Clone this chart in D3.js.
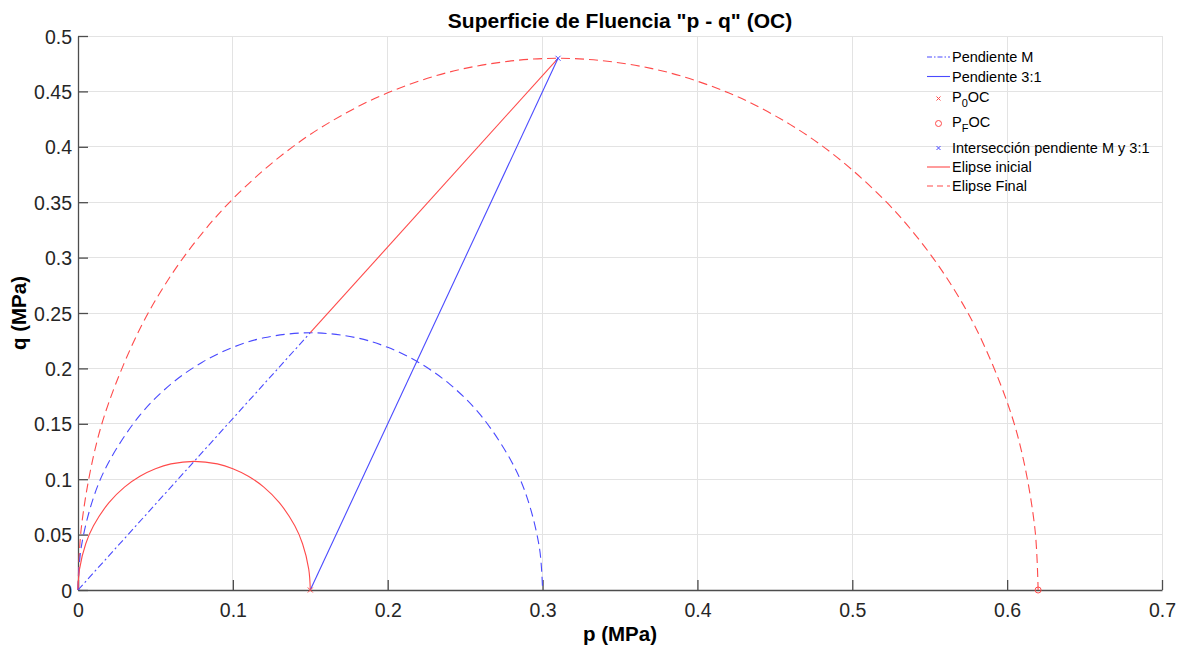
<!DOCTYPE html>
<html>
<head>
<meta charset="utf-8">
<script src="https://cdn.jsdelivr.net/npm/d3@7"></script>
<style>
html,body{margin:0;padding:0;background:#fff;}
svg{display:block;font-family:"Liberation Sans",Arial,sans-serif;}
</style>
</head>
<body>
<svg id="chart" width="1181" height="652"></svg>
<script>
// ---- data (p, q in MPa) ----
const xTicks = [0, 0.1, 0.2, 0.3, 0.4, 0.5, 0.6, 0.7];
const yTicks = [0, 0.05, 0.1, 0.15, 0.2, 0.25, 0.3, 0.35, 0.4, 0.45, 0.5];

const elipseInicial = [
  [0,0],[0.001,0.0189],[0.005,0.0417],[0.01,0.0579],[0.02,0.0789],[0.03,0.0929],
  [0.04,0.1027],[0.05,0.1095],[0.06,0.1138],[0.075,0.1161],[0.09,0.1138],[0.10,0.1095],
  [0.11,0.1027],[0.12,0.0929],[0.13,0.0789],[0.14,0.0579],[0.145,0.0417],[0.149,0.0189],[0.15,0]
];
const elipseIntermedia = [
  [0,0],[0.002,0.0378],[0.01,0.0834],[0.02,0.1158],[0.04,0.1578],[0.06,0.1858],
  [0.08,0.2054],[0.10,0.2190],[0.12,0.2276],[0.15,0.2322],[0.18,0.2276],[0.20,0.2190],
  [0.22,0.2054],[0.24,0.1858],[0.26,0.1578],[0.28,0.1158],[0.29,0.0834],[0.298,0.0378],[0.30,0]
];
const elipseFinal = [
  [0,0],[0.002,0.0544],[0.01,0.1209],[0.02,0.1696],[0.04,0.2358],[0.06,0.2838],
  [0.08,0.3217],[0.10,0.3530],[0.13,0.3907],[0.16,0.4200],[0.20,0.4487],[0.25,0.4708],
  [0.31,0.4799],[0.37,0.4708],[0.42,0.4487],[0.46,0.4200],[0.49,0.3907],[0.52,0.3530],
  [0.54,0.3217],[0.56,0.2838],[0.58,0.2358],[0.60,0.1696],[0.61,0.1209],[0.618,0.0544],[0.62,0]
];
const pendienteM = [[0,0],[0.15,0.2322]];
const pendienteMRoja = [[0.15,0.2322],[0.31,0.4799]];
const pendiente31 = [[0.15,0],[0.31,0.4799]];
const p0OC = [0.15, 0];
const pFOC = [0.62, 0];
const interseccion = [0.31, 0.4799];

// ---- layout ----
const RED = "#ff4a4a", BLUE = "#4a4aff";
const svg = d3.select("#chart");
const L = 78, T = 36, R = 1162, B = 590;
const x = d3.scaleLinear().domain([0, 0.7]).range([L, R]);
const y = d3.scaleLinear().domain([0, 0.5]).range([B, T]);

// grid
const g = svg.append("g");
g.selectAll(".gx").data(xTicks).enter().append("line")
  .attr("x1", d => x(d)).attr("x2", d => x(d)).attr("y1", T).attr("y2", B)
  .attr("stroke", "#e3e3e3").attr("stroke-width", 1).attr("shape-rendering","crispEdges");
g.selectAll(".gy").data(yTicks).enter().append("line")
  .attr("y1", d => y(d)).attr("y2", d => y(d)).attr("x1", L).attr("x2", R)
  .attr("stroke", "#e3e3e3").attr("stroke-width", 1).attr("shape-rendering","crispEdges");

// axes
const xAxis = d3.axisBottom(x).tickValues(xTicks).tickFormat(d3.format("~g")).tickSizeInner(-10).tickSizeOuter(0).tickPadding(13);
const yAxis = d3.axisLeft(y).tickValues(yTicks).tickFormat(d3.format("~g")).tickSizeInner(-10).tickSizeOuter(0).tickPadding(6);
const gx = svg.append("g").attr("transform", `translate(0,${B})`).call(xAxis);
const gy = svg.append("g").attr("transform", `translate(${L},0)`).call(yAxis);
[gx, gy].forEach(a => {
  a.select(".domain").attr("stroke", "#4d4d4d").attr("stroke-width", 1.3);
  a.selectAll(".tick line").attr("stroke", "#4d4d4d").attr("stroke-width", 1.3);
  a.selectAll(".tick text").attr("fill", "#262626").style("font-size", "19.5px").style("font-family", "'Liberation Sans',Arial,sans-serif");
});
gy.selectAll(".tick text").attr("dy", "0.36em");
gx.selectAll(".tick text").attr("dy", "0.71em");

// curves
const line = d3.line().x(d => x(d[0])).y(d => y(d[1]));
const smooth = d3.line().x(d => x(d[0])).y(d => y(d[1])).curve(d3.curveCatmullRom.alpha(0.5));
const plot = svg.append("g");
plot.append("path").datum(elipseFinal).attr("d", smooth).attr("fill","none").attr("stroke",RED).attr("stroke-width",1.1).attr("stroke-dasharray","9,5");
plot.append("path").datum(elipseIntermedia).attr("d", smooth).attr("fill","none").attr("stroke",BLUE).attr("stroke-width",1.1).attr("stroke-dasharray","9,5");
plot.append("path").datum(elipseInicial).attr("d", smooth).attr("fill","none").attr("stroke",RED).attr("stroke-width",1.1);
plot.append("path").datum(pendienteM).attr("d", line).attr("fill","none").attr("stroke",BLUE).attr("stroke-width",1.1).attr("stroke-dasharray","7,3,2,3");
plot.append("path").datum(pendienteMRoja).attr("d", line).attr("fill","none").attr("stroke",RED).attr("stroke-width",1.1);
plot.append("path").datum(pendiente31).attr("d", line).attr("fill","none").attr("stroke",BLUE).attr("stroke-width",1.1);

function cross(gsel, cx, cy, s, color) {
  gsel.append("path").attr("d", `M${cx-s},${cy-s}L${cx+s},${cy+s}M${cx-s},${cy+s}L${cx+s},${cy-s}`)
    .attr("stroke", color).attr("stroke-width", 1).attr("fill","none");
}
cross(plot, x(p0OC[0]), y(p0OC[1]), 2.5, RED);
plot.append("circle").attr("cx", x(pFOC[0])).attr("cy", y(pFOC[1])).attr("r", 3).attr("fill","none").attr("stroke",RED).attr("stroke-width",1);
cross(plot, x(interseccion[0]), y(interseccion[1]), 2.5, BLUE);

// legend
const lg = svg.append("g").style("font-size","14.5px").attr("fill","#000");
const rowsY = [57, 76.5, 97, 122, 148, 167, 186];
const lx0 = 927, lx1 = 950, tx = 952;
function lline(i, color, dash) {
  lg.append("line").attr("x1", lx0).attr("x2", lx1).attr("y1", rowsY[i]).attr("y2", rowsY[i])
    .attr("stroke", color).attr("stroke-width", 1.1).attr("stroke-dasharray", dash || null);
}
lline(0, BLUE, "5,2,1.5,2");
lline(1, BLUE);
cross(lg, 938.5, rowsY[2]+1.5, 2, RED);
lg.append("circle").attr("cx", 938.5).attr("cy", rowsY[3]+1.5).attr("r", 3).attr("fill","none").attr("stroke",RED).attr("stroke-width",1);
cross(lg, 938.5, rowsY[4], 2, BLUE);
lline(5, RED);
lline(6, RED, "6,4");
function ltext(i, parts) {
  const t = lg.append("text").attr("x", tx).attr("y", rowsY[i]).attr("dy", "0.35em").attr("fill", "#000");
  parts.forEach(p => {
    const s = t.append("tspan").text(p.t);
    if (p.sub) s.attr("dy", "5").style("font-size", "11px");
    if (p.back) s.attr("dy", "-5");
  });
}
ltext(0, [{t:"Pendiente M"}]);
ltext(1, [{t:"Pendiente 3:1"}]);
ltext(2, [{t:"P"},{t:"0",sub:true},{t:"OC",back:true}]);
ltext(3, [{t:"P"},{t:"F",sub:true},{t:"OC",back:true}]);
ltext(4, [{t:"Intersección pendiente M y 3:1"}]);
ltext(5, [{t:"Elipse inicial"}]);
ltext(6, [{t:"Elipse Final"}]);

// title and labels
svg.append("text").attr("x", 620).attr("y", 27.5).attr("text-anchor","middle")
  .style("font-size","21px").style("font-weight","bold").attr("fill","#000")
  .text('Superficie de Fluencia "p - q" (OC)');
svg.append("text").attr("x", 620).attr("y", 641).attr("text-anchor","middle")
  .style("font-size","20.5px").style("font-weight","bold").attr("fill","#000").text("p (MPa)");
svg.append("text").attr("transform", `translate(26,${(T+B)/2}) rotate(-90)`).attr("text-anchor","middle")
  .style("font-size","20.5px").style("font-weight","bold").attr("fill","#000").text("q (MPa)");
</script>
</body>
</html>
